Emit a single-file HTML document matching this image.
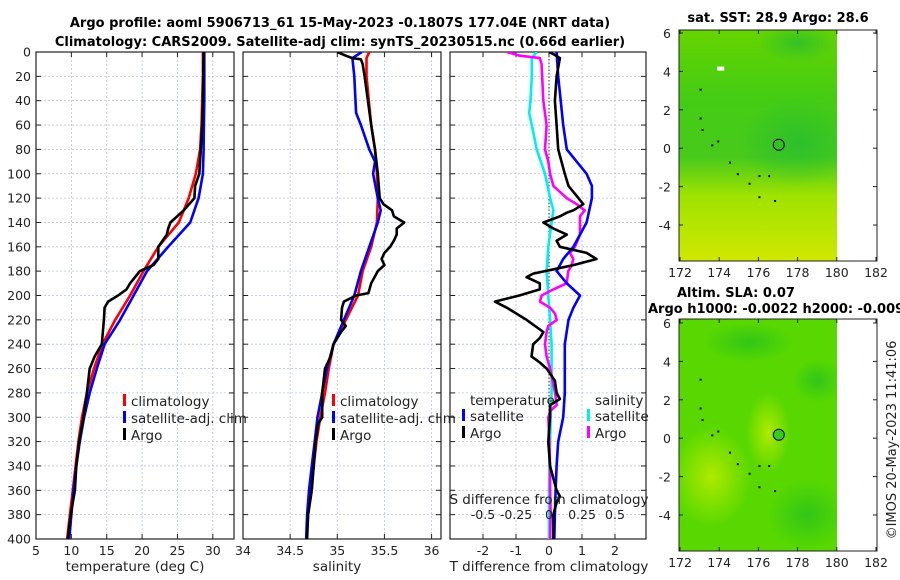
<!DOCTYPE html>
<html><head><meta charset="utf-8">
<style>
html,body{margin:0;padding:0;background:#fff;}
svg{display:block;font-family:"DejaVu Sans","Liberation Sans",sans-serif;}
.t{font-size:12.5px;fill:#222;}
.b{font-weight:bold;font-size:13px;fill:#000;}
</style></head>
<body>
<svg id="chart" width="900" height="580" viewBox="0 0 900 580" xmlns="http://www.w3.org/2000/svg">
<defs>
<linearGradient id="sstGrad" x1="0" y1="0" x2="0" y2="1">
<stop offset="0" stop-color="#66d400"/><stop offset="0.3" stop-color="#44cc14"/><stop offset="0.55" stop-color="#48ca1c"/><stop offset="0.72" stop-color="#a0e200"/><stop offset="1" stop-color="#cfe800"/>
</linearGradient>
<radialGradient id="sstBlob"><stop offset="0" stop-color="#22bb33" stop-opacity="0.7"/><stop offset="1" stop-color="#22bb33" stop-opacity="0"/></radialGradient>
<radialGradient id="slaLight"><stop offset="0" stop-color="#b8ec00" stop-opacity="0.9"/><stop offset="1" stop-color="#b8ec00" stop-opacity="0"/></radialGradient>
<radialGradient id="slaDark"><stop offset="0" stop-color="#2ec41a" stop-opacity="0.9"/><stop offset="1" stop-color="#2ec41a" stop-opacity="0"/></radialGradient>
<clipPath id="c1"><rect x="36" y="52" width="198" height="487"/></clipPath>
<clipPath id="c2"><rect x="243" y="52" width="198" height="487"/></clipPath>
<clipPath id="c3"><rect x="450" y="52" width="196" height="487"/></clipPath>
<clipPath id="m1"><rect x="679" y="30" width="158" height="231"/></clipPath>
<clipPath id="m2"><rect x="679" y="319" width="158" height="232"/></clipPath>
</defs>
<text class="b" x="340" y="27" text-anchor="middle">Argo profile: aoml 5906713_61 15-May-2023 -0.1807S 177.04E (NRT data)</text>
<text class="b" x="340" y="46" text-anchor="middle">Climatology: CARS2009. Satellite-adj clim: synTS_20230515.nc (0.66d earlier)</text>
<g id="g1"></g>
<g id="g2"></g>
<g id="g3"></g>
<g id="maps"></g>
<text class="t" x="0" y="0" transform="translate(896,440) rotate(-90)" text-anchor="middle" style="font-size:13px">©IMOS 20-May-2023 11:41:06</text>
</svg>
<script>
const depths=[0,20,40,60,80,100,120,140,160,180,200,220,240,260,280,300,320,340,360,380,400];
const tClim=[28.6,28.6,28.5,28.4,28.2,27.6,26.6,25.2,22.3,20.2,18.3,16.2,14.4,13.2,12.2,11.5,11.0,10.6,10.2,9.8,9.4];
const tSat=[28.8,28.8,28.8,28.75,28.7,28.6,28.0,26.8,23.7,20.7,18.8,16.9,14.7,13.6,12.6,11.8,11.2,10.7,10.3,10.0,9.7];
const argoTDepth=[0,40,60,80,100,110,120,130,140,145,150,160,170,175,180,190,195,200,205,210,220,240,250,260,270,280,300,320,340,360,370,380,400];
const argoT=[28.7,28.6,28.5,28.3,28.1,27.5,27.4,25.9,24.0,23.7,23.5,22.3,22.3,21.6,19.7,18.3,17.8,16.6,15.2,14.7,14.6,14.3,13.3,12.6,12.4,12.2,11.7,11.1,10.7,10.5,10.2,9.9,9.5];
const sClimDepth=[0,5,20,60,80,100,120,140,160,180,200,220,240,260,280,300,320,340,360,380,400];
const sClim=[35.34,35.31,35.31,35.36,35.40,35.42,35.43,35.42,35.36,35.27,35.22,35.09,34.96,34.91,34.87,34.82,34.78,34.75,34.72,34.69,34.67];
const sSatDepth=[0,5,20,50,60,80,90,100,120,130,140,160,180,200,220,240,260,280,300,320,340,360,380,400];
const sSat=[35.26,35.16,35.18,35.20,35.25,35.34,35.40,35.38,35.43,35.46,35.43,35.34,35.25,35.18,35.07,34.96,34.89,34.84,34.79,34.76,34.73,34.70,34.68,34.67];
const argoSDepth=[0,3,5,6,10,20,60,80,100,120,125,130,135,140,145,150,155,160,165,170,175,180,190,198,200,205,210,220,225,230,240,250,260,280,300,305,320,340,360,380,400];
const argoS=[35.0,35.09,35.16,35.25,35.27,35.29,35.36,35.40,35.43,35.45,35.49,35.58,35.60,35.71,35.63,35.63,35.60,35.56,35.50,35.47,35.50,35.43,35.36,35.33,35.20,35.07,35.05,35.04,35.09,35.04,34.96,34.93,34.87,34.84,34.84,34.80,34.77,34.75,34.73,34.69,34.68];
const dTSatDepth=[0,20,60,80,100,110,120,140,150,160,170,180,190,200,210,220,240,260,280,300,320,340,360,380,400];
const dTSat=[0.23,0.28,0.43,0.54,1.14,1.30,1.30,1.14,0.94,0.74,0.43,0.23,0.54,0.94,0.74,0.59,0.48,0.48,0.48,0.43,0.28,0.23,0.20,0.18,0.16];
const dTArgoDepth=[0,2,5,20,40,60,80,90,100,110,120,125,130,132,135,140,145,150,155,160,165,170,175,178,182,185,190,195,200,205,210,220,230,235,240,250,255,260,270,280,285,290,300,320,340,360,365,370,380,400];
const dTArgo=[0,0.15,0.33,0.23,0.18,0.23,0.28,0.38,0.48,0.59,0.89,1.04,0.74,0.54,0.33,-0.17,0.13,0.54,0.23,0.33,1.14,1.44,0.74,0.23,-0.48,-0.68,-0.28,-0.28,-0.9,-1.64,-1.28,-0.68,-0.17,-0.28,-0.48,-0.53,-0.28,-0.07,0.18,0.23,0.33,0.03,0.03,-0.02,0.03,0.23,0.33,0.23,0.13,0.13];
const dSSatDepth=[0,5,20,40,50,60,80,100,120,130,140,160,180,200,220,240,260,280,300,320,340,360,380,400];
const dSSat=[-0.093,-0.13,-0.13,-0.14,-0.15,-0.13,-0.093,-0.03,0.008,0.033,0.02,-0.005,-0.018,-0.005,0.008,0.02,0.02,0.02,0.013,0.008,0.003,0,0,0];
const dSArgoDepth=[0,3,5,10,40,60,80,90,100,110,120,125,130,135,140,150,160,165,170,175,180,190,195,200,205,210,215,220,225,230,240,250,260,280,290,295,300,320,340,360,380,400];
const dSArgo=[-0.32,-0.22,-0.07,-0.056,-0.043,-0.018,-0.03,-0.005,0.008,0.033,0.134,0.21,0.27,0.235,0.235,0.235,0.197,0.159,0.184,0.172,0.146,0.134,0.033,-0.056,-0.068,0.008,0.046,0.058,-0.005,-0.018,-0.03,-0.018,0.008,0.046,0.058,0.008,-0.005,0.003,0.008,0.008,0.013,0.008];
const depthTicks=[0,20,40,60,80,100,120,140,160,180,200,220,240,260,280,300,320,340,360,380,400];
const tTicks=[5,10,15,20,25,30];
const sTicks=[34,34.5,35,35.5,36];
const sTickLabels=["34","34.5","35","35.5","36"];
const dTTicks=[-2,-1,0,1,2];
const dSTicks=[-0.5,-0.25,0,0.25,0.5];
const lonTicks=[172,174,176,178,180,182];
const latTicks=[-4,-2,0,2,4,6];

const NS='http://www.w3.org/2000/svg';
function mk(tag,attrs,parent){const e=document.createElementNS(NS,tag);for(const k in attrs)e.setAttribute(k,attrs[k]);if(parent)parent.appendChild(e);return e;}
const Y=d=>52+d*(487/400);
const P1={x0:36,x1:234,lo:5,hi:33.0}, P2={x0:243,x1:441,lo:34,hi:36.1}, P3={x0:450,x1:646,lo:-3,hi:2.94};
const sx=(p,v)=>p.x0+(v-p.lo)*(p.x1-p.x0)/(p.hi-p.lo);
const dSx=v=>549+v*132;

function frame(g,p,ticks,labels,ylabels){
  depthTicks.forEach(d=>{const l=mk('line',{x1:p.x0,x2:p.x1,y1:Y(d),y2:Y(d),stroke:'#b8c4dd','stroke-width':0.8,'stroke-dasharray':'2,2'},g);
    
    mk('line',{x1:p.x0,x2:p.x0+5,y1:Y(d),y2:Y(d),stroke:'#222'},g);mk('line',{x1:p.x1-5,x2:p.x1,y1:Y(d),y2:Y(d),stroke:'#222'},g);
    if(ylabels){const t=mk('text',{x:p.x0-5,y:Y(d)+4.5,'text-anchor':'end',class:'t'},g);t.textContent=d;
      }
  });
  ticks.forEach((v,i)=>{const x=sx(p,v);
    const l=mk('line',{x1:x,x2:x,y1:52,y2:539,stroke:'#b8c4dd','stroke-width':0.8,'stroke-dasharray':'2,2'},g);
    
    mk('line',{x1:x,x2:x,y1:52,y2:57,stroke:'#222'},g);mk('line',{x1:x,x2:x,y1:534,y2:539,stroke:'#222'},g);
    const t=mk('text',{x:x,y:555,'text-anchor':'middle',class:'t'},g);t.textContent=labels[i];
    
  });
  const r=mk('rect',{x:p.x0,y:52,width:p.x1-p.x0,height:487,fill:'none',stroke:'#222','stroke-width':1.2},g);
  
}
function line(g,xs,ds,fx,color,name,clip){
  const pts=xs.map((v,i)=>fx(v).toFixed(1)+','+Y(ds[i]).toFixed(1)).join(' ');
  const e=mk('polyline',{points:pts,fill:'none',stroke:color,'stroke-width':2.6,'stroke-linejoin':'round','clip-path':'url(#'+clip+')'},g);
  
}
function txt(g,x,y,s,name,anchor,extra){const t=mk('text',Object.assign({x:x,y:y,class:'t','text-anchor':anchor||'start'},extra||{}),g);t.textContent=s;
  return t;}
function legend(g,x,y,color,label){const m=mk('rect',{x:x,y:y-12,width:3,height:12,fill:color},g);
  
  txt(g,x+8,y,label,'legend-entry','start',{style:'font-size:13.5px'});}

const g1=document.getElementById('g1'),g2=document.getElementById('g2'),g3=document.getElementById('g3');
frame(g1,P1,tTicks,tTicks.map(String),true);
frame(g2,P2,sTicks,sTickLabels,false);
frame(g3,P3,dTTicks,dTTicks.map(String),false);
txt(g1,135,571,'temperature (deg C)','x-axis-title','middle',{style:'font-size:13.5px'});
txt(g2,337,571,'salinity','x-axis-title','middle',{style:'font-size:13.5px'});
txt(g3,549,571,'T difference from climatology','x-axis-title','middle',{style:'font-size:13.5px'});

line(g1,tClim,depths,v=>sx(P1,v),'#ff0000','temperature-climatology-line','c1');
line(g1,tSat,depths,v=>sx(P1,v),'#0000ff','temperature-satellite-line','c1');
line(g1,argoT,argoTDepth,v=>sx(P1,v),'#000000','temperature-argo-line','c1');
line(g2,sClim,sClimDepth,v=>sx(P2,v),'#ff0000','salinity-climatology-line','c2');
line(g2,sSat,sSatDepth,v=>sx(P2,v),'#0000ff','salinity-satellite-line','c2');
line(g2,argoS,argoSDepth,v=>sx(P2,v),'#000000','salinity-argo-line','c2');
const z=mk('line',{x1:549,x2:549,y1:52,y2:539,stroke:'#555','stroke-width':1.2,'stroke-dasharray':'1.5,2'},g3);

line(g3,dSSat,dSSatDepth,dSx,'#00eeee','salinity-satellite-diff-line','c3');
line(g3,dSArgo,dSArgoDepth,dSx,'#ff00ff','salinity-argo-diff-line','c3');
line(g3,dTSat,dTSatDepth,v=>sx(P3,v),'#0000ff','temperature-satellite-diff-line','c3');
line(g3,dTArgo,dTArgoDepth,v=>sx(P3,v),'#000000','temperature-argo-diff-line','c3');

[[123,'#ff0000','climatology'],[123,'#0000ff','satellite-adj. clim'],[123,'#000000','Argo']].forEach((a,i)=>legend(g1,a[0],406+i*17,a[1],a[2]));
[[332,'#ff0000','climatology'],[332,'#0000ff','satellite-adj. clim'],[332,'#000000','Argo']].forEach((a,i)=>legend(g2,a[0],406+i*17,a[1],a[2]));
txt(g3,470,405,'temperature','legend-title','start',{style:'font-size:13.5px'});
txt(g3,595,405,'salinity','legend-title','start',{style:'font-size:13.5px'});
legend(g3,462,421,'#0000ff','satellite');legend(g3,462,438,'#000000','Argo');
legend(g3,587,421,'#00eeee','satellite');legend(g3,587,438,'#ff00ff','Argo');
txt(g3,549,504,'S difference from climatology','s-axis-title','middle',{style:'font-size:13.5px'});
dSTicks.forEach(v=>txt(g3,dSx(v),519,String(v),'s-tick-label','middle'));

// maps
const maps=document.getElementById('maps');
const LX=v=>680+(v-172)*19.6;
function mapPanel(top,bot,lat6y,kind){
  const LY=v=>lat6y+(6-v)*19.2;
  const g=mk('g',{'clip-path':'url(#'+(kind==='sst'?'m1':'m2')+')'},maps);
  
  if(kind==='sst'){
    mk('rect',{x:679,y:top,width:158,height:bot-top,fill:'url(#sstGrad)'},g);
    mk('ellipse',{cx:LX(178),cy:LY(0.3),rx:60,ry:45,fill:'url(#sstBlob)'},g);
    mk('ellipse',{cx:LX(178),cy:LY(5.5),rx:40,ry:20,fill:'url(#sstBlob)'},g);
    mk('rect',{x:LX(173.9),y:LY(4.25),width:7,height:4,fill:'#fff'},g);
  } else {
    mk('rect',{x:679,y:top,width:158,height:bot-top,fill:'#58d800'},g);
    mk('ellipse',{cx:LX(173.6),cy:LY(-2),rx:40,ry:50,fill:'url(#slaLight)'},g);
    mk('ellipse',{cx:LX(176.5),cy:LY(0.3),rx:22,ry:40,fill:'url(#slaLight)'},g);
    mk('ellipse',{cx:LX(175.5),cy:LY(5),rx:45,ry:20,fill:'url(#slaDark)'},g);
    mk('ellipse',{cx:LX(178.5),cy:LY(-4),rx:40,ry:35,fill:'url(#slaDark)'},g);
    mk('ellipse',{cx:LX(179),cy:LY(3),rx:25,ry:22,fill:'url(#slaDark)'},g);
  }
  [[173,3.1],[173,1.6],[173.1,1.0],[173.6,0.2],[173.9,0.4],[174.5,-0.7],[174.9,-1.3],[175.5,-1.8],[176,-1.4],[176.5,-1.4],[176,-2.5],[176.8,-2.7]].forEach(p=>{
    const d=mk('rect',{x:LX(p[0]),y:LY(p[1]),width:2,height:2,fill:'#000'},g);});
  const c=mk('circle',{cx:LX(177.04),cy:LY(0.18),r:5.5,fill:kind==='sst'?'#33c022':'#33cc22',stroke:'#000','stroke-width':1},maps);
  
  const f=mk('rect',{x:679,y:top,width:198,height:bot-top,fill:'none',stroke:'#222'},maps);
  
  lonTicks.forEach(v=>{mk('line',{x1:LX(v),x2:LX(v),y1:bot,y2:bot-4,stroke:'#222'},maps);mk('line',{x1:LX(v),x2:LX(v),y1:top,y2:top+4,stroke:'#222'},maps);
    txt(maps,LX(v),bot+16,String(v),'lon-tick-label','middle');});
  latTicks.forEach(v=>{mk('line',{x1:679,x2:683,y1:LY(v),y2:LY(v),stroke:'#222'},maps);mk('line',{x1:873,x2:877,y1:LY(v),y2:LY(v),stroke:'#222'},maps);
    txt(maps,671,LY(v)+5,String(v),'lat-tick-label','end');});
}
mapPanel(30,261,33,'sst');
mapPanel(319,551,323,'sla');
txt(maps,778,22,'sat. SST: 28.9 Argo: 28.6','sst-map-title','middle',{class:'b'});
txt(maps,677,297,'Altim. SLA: 0.07','sla-map-title','start',{class:'b'});
txt(maps,648,313,'Argo h1000: -0.0022 h2000: -0.009','sla-map-subtitle','start',{class:'b'});
</script>
</body></html>
